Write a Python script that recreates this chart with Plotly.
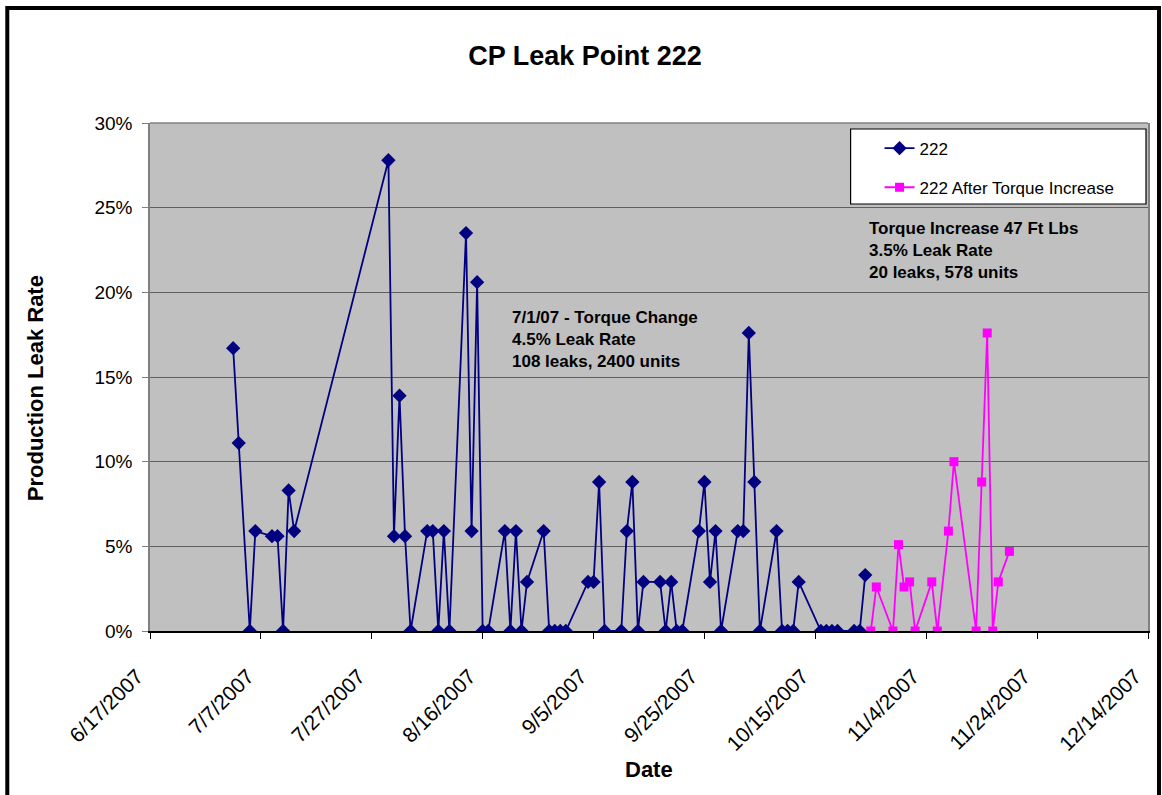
import plotly.graph_objects as go

# series "222" (leak rate in %)
dates_222 = [
    "2007-07-02", "2007-07-03", "2007-07-05", "2007-07-06", "2007-07-09", "2007-07-10",
    "2007-07-11", "2007-07-12", "2007-07-13", "2007-07-30", "2007-07-31", "2007-08-01",
    "2007-08-02", "2007-08-03", "2007-08-06", "2007-08-07", "2007-08-08", "2007-08-09",
    "2007-08-10", "2007-08-13", "2007-08-14", "2007-08-15", "2007-08-16", "2007-08-17",
    "2007-08-20", "2007-08-21", "2007-08-22", "2007-08-23", "2007-08-24", "2007-08-27",
    "2007-08-28", "2007-08-29", "2007-08-30", "2007-08-31", "2007-09-04", "2007-09-05",
    "2007-09-06", "2007-09-07", "2007-09-10", "2007-09-11", "2007-09-12", "2007-09-13",
    "2007-09-14", "2007-09-17", "2007-09-18", "2007-09-19", "2007-09-20", "2007-09-21",
    "2007-09-24", "2007-09-25", "2007-09-26", "2007-09-27", "2007-09-28", "2007-10-01",
    "2007-10-02", "2007-10-03", "2007-10-04", "2007-10-05", "2007-10-08", "2007-10-09",
    "2007-10-10", "2007-10-11", "2007-10-12", "2007-10-16", "2007-10-17", "2007-10-18",
    "2007-10-19", "2007-10-22", "2007-10-23", "2007-10-24",
]
rate_222 = [
    16.7, 11.1, 0, 5.9, 5.6, 5.6,
    0, 8.3, 5.9, 27.8, 5.6, 13.9,
    5.6, 0, 5.9, 5.9, 0, 5.9,
    0, 23.5, 5.9, 20.6, 0, 0,
    5.9, 0, 5.9, 0, 2.9, 5.9,
    0, 0, 0, 0, 2.9, 2.9,
    8.8, 0, 0, 5.9, 8.8, 0,
    2.9, 2.9, 0, 2.9, 0, 0,
    5.9, 8.8, 2.9, 5.9, 0, 5.9,
    5.9, 17.6, 8.8, 0, 5.9, 0,
    0, 0, 2.9, 0, 0, 0,
    0, 0, 0, 3.3,
]

# series "222 After Torque Increase"
dates_after = [
    "2007-10-25", "2007-10-26", "2007-10-29", "2007-10-30", "2007-10-31", "2007-11-01",
    "2007-11-02", "2007-11-05", "2007-11-06", "2007-11-08", "2007-11-09", "2007-11-13",
    "2007-11-14", "2007-11-15", "2007-11-16", "2007-11-17", "2007-11-19",
]
rate_after = [0, 2.6, 0, 5.1, 2.6, 2.9, 0, 2.9, 0, 5.9, 10.0, 0, 8.8, 17.6, 0, 2.9, 4.7]

tick_dates = ["2007-06-17", "2007-07-07", "2007-07-27", "2007-08-16", "2007-09-05",
              "2007-09-25", "2007-10-15", "2007-11-04", "2007-11-24", "2007-12-14"]
tick_labels = ["6/17/2007", "7/7/2007", "7/27/2007", "8/16/2007", "9/5/2007",
               "9/25/2007", "10/15/2007", "11/4/2007", "11/24/2007", "12/14/2007"]

FONT = "Arial, Liberation Sans, sans-serif"

fig = go.Figure()
fig.add_trace(go.Scatter(
    x=dates_222, y=rate_222, name="222", mode="lines+markers",
    line=dict(color="#000080", width=1.8),
    marker=dict(symbol="diamond", size=11, color="#000080"),
    legendgroup="a",
))
fig.add_trace(go.Scatter(
    x=dates_after, y=rate_after, name="222 After Torque Increase", mode="lines+markers",
    line=dict(color="#FF00FF", width=1.8),
    marker=dict(symbol="square", size=9, color="#FF00FF"),
    legendgroup="b",
))

fig.update_layout(
    width=1162, height=795,
    margin=dict(l=150, r=12, t=123, b=164),
    paper_bgcolor="white",
    plot_bgcolor="#C0C0C0",
    font=dict(family=FONT, color="black"),
    title=dict(text="<b>CP Leak Point 222</b>", font=dict(size=27),
               x=585 / 1162, xanchor="center", y=1 - 56 / 795, yanchor="middle"),
    showlegend=True,
    legend=dict(x=0.731, xanchor="left", y=0.985, yanchor="top",
                bgcolor="rgba(0,0,0,0)", borderwidth=0,
                font=dict(size=17), tracegroupgap=14),
    xaxis=dict(
        range=["2007-06-17", "2007-12-14"],
        tickvals=tick_dates, ticktext=tick_labels, tickangle=-45,
        tickfont=dict(size=21),
        ticklabelstandoff=17, ticklabelshift=-13,
        showgrid=False, zeroline=False,
        showline=True, linecolor="black", linewidth=1.5,
        ticks="outside", ticklen=6, tickcolor="black",
    ),
    yaxis=dict(
        range=[0, 30], dtick=5, ticksuffix="%",
        tickfont=dict(size=19), ticklabelstandoff=6,
        showgrid=True, gridcolor="#5f5f5f", gridwidth=1.2,
        zeroline=False,
        showline=True, linecolor="#808080", linewidth=1.5, mirror=True,
        ticks="outside", ticklen=6, tickcolor="#808080",
    ),
    shapes=[
        # top edge of plot area
        dict(type="line", xref="paper", yref="paper", x0=0, x1=1, y0=1, y1=1,
             line=dict(color="#808080", width=1.5)),
        # legend box
        dict(type="rect", xref="paper", yref="paper",
             x0=(852 - 150) / 1000, x1=(1148 - 150) / 1000,
             y0=(631 - 204) / 508, y1=(631 - 129) / 508,
             fillcolor="white", line=dict(color="black", width=1.2), layer="below"),
        # outer chart frame
        dict(type="rect", xref="paper", yref="paper",
             x0=(7 - 150) / 1000, x1=(1161 - 150) / 1000,
             y0=(631 - 810) / 508, y1=(631 - 8) / 508,
             line=dict(color="black", width=4)),
    ],
    annotations=[
        dict(text="<b>Production Leak Rate</b>", textangle=-90,
             xref="paper", yref="paper", x=(35 - 150) / 1000, y=(631 - 388) / 508,
             xanchor="center", yanchor="middle",
             showarrow=False, font=dict(size=22)),
        dict(text="<b>Date</b>", xref="paper", yref="paper",
             x=(650 - 150) / 1000, y=(631 - 769) / 508,
             xanchor="center", yanchor="middle",
             showarrow=False, font=dict(size=22)),
        dict(text="<b>7/1/07 - Torque Change<br>4.5% Leak Rate<br>108 leaks, 2400 units</b>",
             xref="paper", yref="paper", x=(511 - 150) / 1000, y=(631 - 306) / 508,
             xanchor="left", yanchor="top", align="left", showarrow=False,
             font=dict(size=17)),
        dict(text="<b>Torque Increase 47 Ft Lbs<br>3.5% Leak Rate<br>20 leaks, 578 units</b>",
             xref="paper", yref="paper", x=(868 - 150) / 1000, y=(631 - 217) / 508,
             xanchor="left", yanchor="top", align="left", showarrow=False,
             font=dict(size=17)),
    ],
)

fig.write_html("out.html", config={"displayModeBar": False},
               post_script="document.body.style.margin='0';")
